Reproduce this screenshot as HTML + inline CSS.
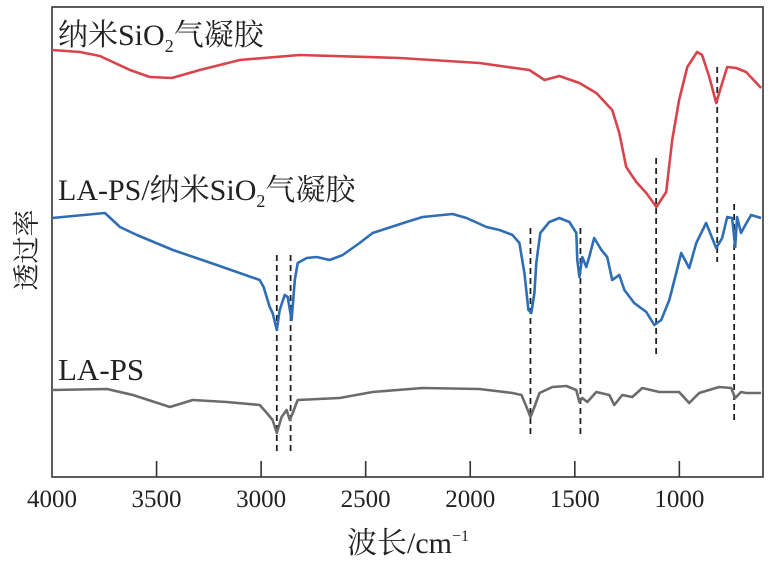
<!DOCTYPE html>
<html><head><meta charset="utf-8"><style>
body{margin:0;background:#fff;}
svg text{font-family:"Liberation Serif","Noto Serif CJK SC",serif;fill:#222;}
</style></head><body>
<svg id="chart" width="772" height="564" viewBox="0 0 772 564" xmlns="http://www.w3.org/2000/svg">
<g id="marks"></g>
</svg>
<script>
const xTicks=[4000,3500,3000,2500,2000,1500,1000];
const redWn=[4000,3866,3771,3627,3532,3427,3293,3102,2816,2338,1956,1717,1645,1574,1478,1397,1321,1287,1254,1206,1158,1110,1063,1034,1001,962,915,891,857,824,795,771,728,681,609];
const redT=[427,425,421,407,400,399,407,417,422,419,414,407,397,401,394,384,367,344,310,295,284,270,285,337,377,410,425,422,400,374,394,410,409,405,389];
const blueWn=[4000,3747,3675,3594,3422,3212,3007,2988,2959,2945,2925,2911,2887,2873,2854,2839,2825,2782,2734,2672,2610,2529,2467,2305,2228,2085,2018,1922,1860,1798,1765,1741,1722,1708,1693,1684,1665,1622,1574,1526,1493,1488,1478,1464,1445,1431,1407,1373,1345,1321,1287,1263,1216,1158,1120,1087,1048,1015,991,953,919,872,824,795,771,748,733,724,705,690,657,609];
const blueT=[259,264,250,242,227,212,197,190,170,164,147,167,182,180,157,197,214,219,220,217,222,234,244,255,260,263,259,250,247,242,234,204,167,164,184,214,244,255,259,255,244,217,200,220,210,220,239,227,220,197,202,187,174,165,152,157,177,204,224,209,234,254,229,239,260,259,230,260,244,250,262,259];
const grayWn=[4000,3737,3613,3436,3327,3164,3007,2973,2945,2925,2902,2878,2863,2849,2825,2625,2467,2228,1956,1798,1755,1731,1712,1693,1669,1607,1540,1493,1478,1464,1440,1397,1335,1311,1273,1225,1177,1096,1001,953,905,810,752,733,705,681,609];
const grayT=[87,88,82,70,77,75,72,64,57,44,60,67,57,64,77,79,85,89,88,84,82,70,60,70,84,90,91,87,75,79,75,85,82,72,82,80,89,85,85,74,84,90,89,79,85,84,84];
const peakWn=[2925,2859,1712,1473,1111,819,738];
const peakTop=[222,222,249,249,319,410,273];
const peakBottom=[25,25,42,42,122,215,55];

const L=52,R=763,T=7,B=477;
const x=w=>L+(4000-w)*(R-L)/(4000-600);
const y=v=>B-v;
const NS='http://www.w3.org/2000/svg';
const g=document.getElementById('marks');
function el(t,a){const e=document.createElementNS(NS,t);for(const k in a)e.setAttribute(k,a[k]);g.appendChild(e);return e;}

const fr=el('rect',{x:L,y:T,width:R-L,height:B-T,fill:'none',stroke:'#333','stroke-width':1.6});



xTicks.forEach((t,i)=>{
  const X=x(t);
  if(i>0){const tk=el('line',{x1:X,x2:X,y1:B,y2:B-16,stroke:'#333','stroke-width':1.6});
  
  }
  const tl=el('text',{x:X,y:507,'text-anchor':'middle','font-size':25});
  tl.textContent=t;
  
  
});

peakWn.forEach((w,i)=>{
  const d=el('line',{x1:x(w),x2:x(w),y1:y(peakTop[i]),y2:y(peakBottom[i]),stroke:'#222','stroke-width':1.8,'stroke-dasharray':'6,4'});
  
  
});

function series(wn,tv,color,name){
  const p=el('polyline',{points:wn.map((w,i)=>x(w).toFixed(1)+','+y(tv[i]).toFixed(1)).join(' '),fill:'none',stroke:color,'stroke-width':2.6,'stroke-linejoin':'round'});
  
  
}
series(redWn,redT,'#d9434b','series-sio2-aerogel');
series(blueWn,blueT,'#2f6db5','series-la-ps-sio2-aerogel');
series(grayWn,grayT,'#6b6b6b','series-la-ps');
</script>
<svg style="position:absolute;left:0;top:0" width="772" height="564">
<text x="58" y="45" font-size="30">纳米SiO<tspan font-size="18" dy="7">2</tspan><tspan dy="-7">气凝胶</tspan></text>
<text x="58" y="200" font-size="30">LA-PS/纳米SiO<tspan font-size="18" dy="7">2</tspan><tspan dy="-7">气凝胶</tspan></text>
<text x="58" y="380" font-size="31">LA-PS</text>
<text x="0" y="0" font-size="27" text-anchor="middle" transform="translate(36,250) rotate(-90)">透过率</text>
<text x="408" y="553" font-size="30" text-anchor="middle">波长/cm<tspan font-size="16" dy="-12">−1</tspan></text>
</svg>
</body></html>
